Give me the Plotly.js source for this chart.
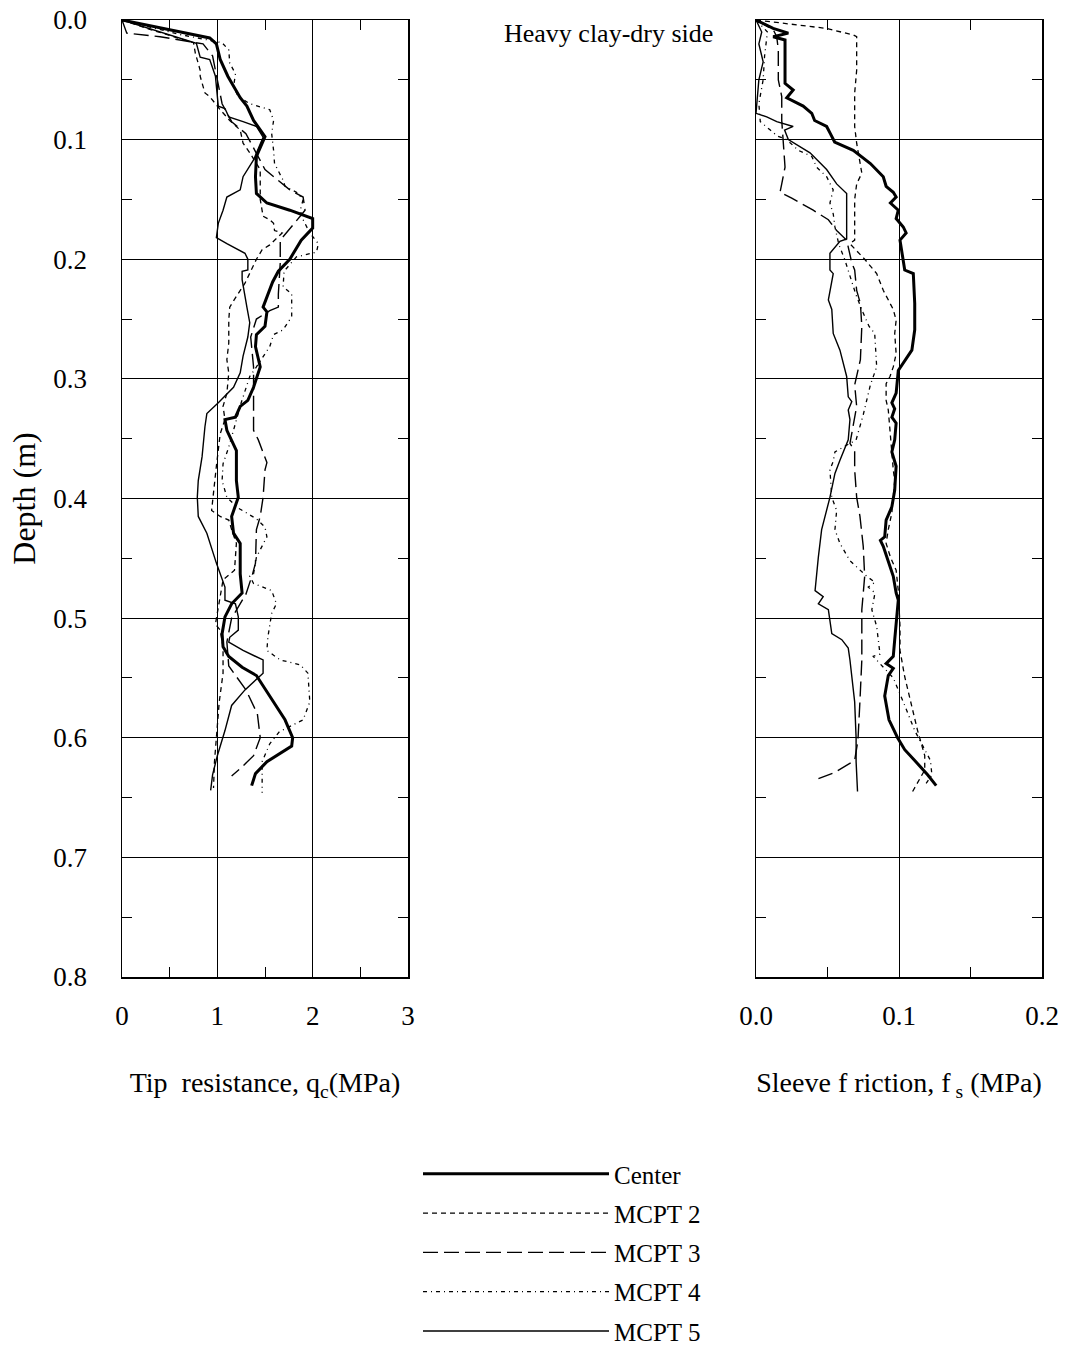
<!DOCTYPE html>
<html>
<head>
<meta charset="utf-8">
<script src="https://cdn.plot.ly/plotly-3.0.1.min.js"></script>
<style>html,body{margin:0;padding:0;background:#fff;}#chart{width:1068px;height:1347px;}</style>
</head>
<body>
<div id="chart"></div>
<script>
// ---------- Tip resistance qc (MPa) vs depth (m) ----------
const qcCenterDepth = [0, 0.015, 0.02, 0.033, 0.047, 0.065, 0.072, 0.084, 0.0975, 0.114, 0.131, 0.145, 0.153, 0.159, 0.166, 0.174, 0.184, 0.2, 0.21, 0.219, 0.24, 0.244, 0.256, 0.263, 0.273, 0.29, 0.307, 0.318, 0.323, 0.332, 0.334, 0.343, 0.36, 0.385, 0.399, 0.415, 0.429, 0.4375, 0.463, 0.479, 0.488, 0.499, 0.513, 0.524, 0.532, 0.541, 0.548, 0.565, 0.585, 0.6, 0.607, 0.62, 0.63, 0.64];
const qcCenter = [0, 0.92, 0.99, 1.03, 1.11, 1.24, 1.31, 1.38, 1.50, 1.41, 1.40, 1.41, 1.52, 1.76, 2.0, 2.0, 1.88, 1.76, 1.64, 1.58, 1.48, 1.52, 1.50, 1.41, 1.40, 1.45, 1.38, 1.32, 1.24, 1.19, 1.08, 1.10, 1.20, 1.20, 1.22, 1.15, 1.17, 1.24, 1.24, 1.26, 1.15, 1.08, 1.05, 1.06, 1.12, 1.26, 1.41, 1.55, 1.71, 1.79, 1.78, 1.52, 1.40, 1.36];

const qcM2Depth = [0, 0.008, 0.019, 0.028, 0.042, 0.047, 0.061, 0.064, 0.075, 0.084, 0.092, 0.103, 0.111, 0.125, 0.15, 0.164, 0.167, 0.17, 0.176, 0.178, 0.188, 0.192, 0.2, 0.22, 0.231, 0.24, 0.251, 0.27, 0.284, 0.295, 0.312, 0.323, 0.334, 0.346, 0.373, 0.399, 0.41, 0.415, 0.418, 0.426, 0.4375, 0.46, 0.468, 0.482, 0.499, 0.505, 0.51, 0.524, 0.546, 0.57, 0.6, 0.62, 0.642];
const qcM2 = [0, 0.3, 0.75, 0.77, 0.82, 0.82, 0.87, 0.92, 1.03, 1.13, 1.24, 1.27, 1.34, 1.45, 1.45, 1.48, 1.55, 1.59, 1.60, 1.68, 1.55, 1.47, 1.41, 1.29, 1.20, 1.13, 1.12, 1.12, 1.10, 1.12, 1.10, 1.06, 1.08, 1.03, 0.99, 0.96, 0.94, 1.03, 1.12, 1.15, 1.20, 1.18, 1.06, 1.03, 0.99, 0.98, 1.03, 1.06, 1.06, 1.02, 0.99, 0.97, 0.96];

const qcM3Depth = [0, 0.011, 0.014, 0.02, 0.03, 0.05, 0.07, 0.085, 0.095, 0.11, 0.125, 0.142, 0.148, 0.159, 0.163, 0.184, 0.203, 0.229, 0.24, 0.243, 0.25, 0.265, 0.29, 0.31, 0.343, 0.351, 0.362, 0.37, 0.376, 0.399, 0.415, 0.426, 0.454, 0.463, 0.48, 0.5, 0.52, 0.54, 0.56, 0.58, 0.6, 0.615, 0.625, 0.632];
const qcM3 = [0, 0.05, 0.4, 0.85, 0.95, 1.0, 1.05, 1.15, 1.3, 1.4, 1.5, 1.76, 1.9, 1.92, 1.88, 1.66, 1.66, 1.64, 1.64, 1.55, 1.41, 1.35, 1.38, 1.38, 1.38, 1.43, 1.48, 1.52, 1.50, 1.48, 1.45, 1.41, 1.40, 1.37, 1.30, 1.15, 1.10, 1.12, 1.30, 1.42, 1.45, 1.38, 1.25, 1.15];

const qcM4Depth = [0, 0.012, 0.019, 0.025, 0.036, 0.045, 0.056, 0.064, 0.07, 0.075, 0.084, 0.095, 0.109, 0.12, 0.134, 0.139, 0.144, 0.15, 0.159, 0.167, 0.178, 0.187, 0.194, 0.198, 0.21, 0.223, 0.229, 0.248, 0.259, 0.263, 0.273, 0.282, 0.29, 0.298, 0.32, 0.34, 0.357, 0.371, 0.385, 0.399, 0.408, 0.417, 0.424, 0.432, 0.44, 0.449, 0.463, 0.465, 0.471, 0.477, 0.488, 0.496, 0.516, 0.527, 0.535, 0.539, 0.546, 0.57, 0.585, 0.595, 0.605, 0.62, 0.646];
const qcM4 = [0, 0.6, 1.05, 1.12, 1.13, 1.19, 1.17, 1.22, 1.34, 1.55, 1.59, 1.57, 1.59, 1.60, 1.69, 1.71, 1.83, 1.90, 1.87, 1.90, 1.97, 2.06, 2.04, 1.83, 1.70, 1.69, 1.78, 1.78, 1.69, 1.59, 1.55, 1.48, 1.41, 1.34, 1.25, 1.18, 1.12, 1.06, 1.05, 1.10, 1.22, 1.41, 1.50, 1.52, 1.47, 1.41, 1.38, 1.34, 1.38, 1.57, 1.62, 1.57, 1.53, 1.52, 1.66, 1.87, 1.95, 1.97, 1.90, 1.65, 1.55, 1.47, 1.47];

const qcM5Depth = [0, 0.0195, 0.031, 0.033, 0.047, 0.072, 0.074, 0.081, 0.085, 0.089, 0.098, 0.117, 0.131, 0.142, 0.148, 0.159, 0.17, 0.182, 0.187, 0.195, 0.2, 0.209, 0.21, 0.217, 0.24, 0.253, 0.265, 0.281, 0.295, 0.307, 0.32, 0.329, 0.34, 0.365, 0.385, 0.399, 0.415, 0.429, 0.454, 0.474, 0.485, 0.488, 0.499, 0.51, 0.516, 0.52, 0.527, 0.535, 0.546, 0.56, 0.573, 0.594, 0.615, 0.631, 0.644];
const qcM5 = [0, 0.78, 0.82, 0.92, 0.98, 1.01, 1.08, 1.12, 1.27, 1.41, 1.48, 1.38, 1.27, 1.24, 1.10, 1.06, 1.01, 0.99, 1.10, 1.29, 1.32, 1.32, 1.26, 1.26, 1.31, 1.34, 1.32, 1.27, 1.24, 1.17, 1.01, 0.89, 0.87, 0.84, 0.80, 0.79, 0.80, 0.89, 0.99, 1.08, 1.08, 1.19, 1.22, 1.22, 1.13, 1.12, 1.27, 1.48, 1.48, 1.29, 1.15, 1.08, 1.00, 0.95, 0.93];

// ---------- Sleeve friction fs (MPa) vs depth (m) ----------
const fsCenterDepth = [0, 0.007, 0.011, 0.014, 0.0167, 0.053, 0.0585, 0.065, 0.072, 0.078, 0.084, 0.089, 0.095, 0.102, 0.109, 0.12, 0.131, 0.139, 0.144, 0.148, 0.153, 0.159, 0.166, 0.173, 0.178, 0.184, 0.209, 0.212, 0.237, 0.259, 0.276, 0.287, 0.293, 0.312, 0.32, 0.325, 0.332, 0.337, 0.351, 0.361, 0.373, 0.393, 0.407, 0.418, 0.432, 0.435, 0.44, 0.465, 0.479, 0.485, 0.502, 0.518, 0.532, 0.538, 0.542, 0.548, 0.565, 0.585, 0.6, 0.61, 0.619, 0.631, 0.64];
const fsCenter = [0, 0.012, 0.0226, 0.012, 0.0203, 0.0203, 0.026, 0.0215, 0.033, 0.039, 0.041, 0.0494, 0.052, 0.055, 0.068, 0.08, 0.089, 0.091, 0.096, 0.098, 0.094, 0.0995, 0.098, 0.103, 0.105, 0.1007, 0.104, 0.11, 0.111, 0.111, 0.109, 0.103, 0.0995, 0.098, 0.095, 0.097, 0.095, 0.098, 0.097, 0.095, 0.098, 0.097, 0.095, 0.091, 0.09, 0.087, 0.089, 0.096, 0.098, 0.0995, 0.098, 0.097, 0.096, 0.091, 0.096, 0.0925, 0.09, 0.093, 0.099, 0.104, 0.111, 0.12, 0.126];

const fsM2Depth = [0, 0.007, 0.0125, 0.014, 0.042, 0.061, 0.089, 0.103, 0.128, 0.137, 0.15, 0.176, 0.184, 0.187, 0.2, 0.212, 0.226, 0.242, 0.251, 0.262, 0.279, 0.29, 0.298, 0.304, 0.318, 0.326, 0.35, 0.376, 0.385, 0.399, 0.412, 0.426, 0.4375, 0.449, 0.46, 0.477, 0.507, 0.527, 0.549, 0.569, 0.594, 0.615, 0.627, 0.646];
const fsM2 = [0, 0.049, 0.068, 0.0704, 0.0704, 0.069, 0.069, 0.0704, 0.074, 0.0704, 0.069, 0.069, 0.069, 0.0657, 0.076, 0.0844, 0.089, 0.096, 0.098, 0.097, 0.098, 0.096, 0.0937, 0.091, 0.091, 0.0925, 0.094, 0.096, 0.097, 0.096, 0.095, 0.0925, 0.091, 0.094, 0.098, 0.0995, 0.1007, 0.1007, 0.104, 0.108, 0.113, 0.118, 0.118, 0.109];

const fsM3Depth = [0, 0.008, 0.014, 0.025, 0.05, 0.064, 0.084, 0.098, 0.123, 0.137, 0.144, 0.149, 0.159, 0.167, 0.176, 0.184, 0.203, 0.209, 0.226, 0.237, 0.256, 0.284, 0.305, 0.323, 0.354, 0.36, 0.376, 0.399, 0.415, 0.44, 0.465, 0.493, 0.535, 0.569, 0.602, 0.619, 0.629, 0.635];
const fsM3 = [0, 0.012, 0.0145, 0.0156, 0.0156, 0.018, 0.018, 0.019, 0.0203, 0.018, 0.0168, 0.025, 0.04, 0.0506, 0.0564, 0.0634, 0.067, 0.069, 0.0704, 0.073, 0.074, 0.073, 0.069, 0.0704, 0.0657, 0.069, 0.069, 0.0704, 0.0727, 0.075, 0.076, 0.074, 0.074, 0.0727, 0.0713, 0.069, 0.055, 0.042];

const fsM4Depth = [0, 0.01, 0.03, 0.05, 0.07, 0.085, 0.092, 0.097, 0.1, 0.109, 0.114, 0.123, 0.131, 0.142, 0.153, 0.162, 0.173, 0.188, 0.2, 0.215, 0.23, 0.245, 0.256, 0.262, 0.29, 0.305, 0.33, 0.351, 0.361, 0.369, 0.376, 0.399, 0.41, 0.426, 0.4375, 0.452, 0.46, 0.465, 0.47, 0.474, 0.479, 0.493, 0.507, 0.518, 0.53, 0.532, 0.538, 0.55, 0.573, 0.594, 0.619, 0.631, 0.64];
const fsM4 = [0, 0.008, 0.006, 0.005, 0.002, 0.003, 0.01, 0.015, 0.0215, 0.0296, 0.039, 0.0424, 0.0494, 0.054, 0.0517, 0.054, 0.0552, 0.058, 0.062, 0.066, 0.07, 0.075, 0.079, 0.083, 0.0844, 0.08, 0.075, 0.07, 0.0552, 0.054, 0.0517, 0.053, 0.0564, 0.0552, 0.0587, 0.0657, 0.0727, 0.0774, 0.0832, 0.0785, 0.0832, 0.081, 0.0844, 0.0855, 0.0867, 0.082, 0.0867, 0.096, 0.104, 0.111, 0.122, 0.123, 0.118];

const fsM5Depth = [0, 0.01, 0.02, 0.035, 0.05, 0.065, 0.078, 0.081, 0.085, 0.089, 0.092, 0.1, 0.111, 0.125, 0.137, 0.145, 0.176, 0.183, 0.185, 0.195, 0.209, 0.212, 0.234, 0.242, 0.262, 0.276, 0.298, 0.315, 0.319, 0.326, 0.334, 0.351, 0.368, 0.379, 0.399, 0.426, 0.449, 0.477, 0.482, 0.488, 0.493, 0.502, 0.513, 0.518, 0.525, 0.535, 0.548, 0.57, 0.6, 0.62, 0.645];
const fsM5 = [0, 0.004, 0.002, 0.005, 0.002, 0.001, 0.0, 0.0075, 0.0145, 0.026, 0.02, 0.0226, 0.0378, 0.0494, 0.0564, 0.0634, 0.0634, 0.0634, 0.0587, 0.0517, 0.0517, 0.054, 0.0506, 0.053, 0.054, 0.0587, 0.0634, 0.0645, 0.067, 0.0645, 0.0657, 0.0645, 0.0587, 0.0552, 0.0517, 0.0459, 0.0436, 0.0413, 0.047, 0.0436, 0.0506, 0.0517, 0.053, 0.06, 0.0645, 0.0657, 0.067, 0.069, 0.07, 0.07, 0.071];

const seriesNames = ["Center", "MCPT 2", "MCPT 3", "MCPT 4", "MCPT 5"];
const qTickVals = [0, 1, 2, 3];
const fTickVals = [0.0, 0.1, 0.2];
const depthTickVals = [0.0, 0.1, 0.2, 0.3, 0.4, 0.5, 0.6, 0.7, 0.8];

const styles = [
  {width: 3, dash: "solid"},
  {width: 1.3, dash: "5px,4px"},
  {width: 1.4, dash: "15px,6px"},
  {width: 1.3, dash: "4px,4px,1px,4px"},
  {width: 1.4, dash: "solid"}
];
const qcData = [[qcCenter, qcCenterDepth], [qcM2, qcM2Depth], [qcM3, qcM3Depth], [qcM4, qcM4Depth], [qcM5, qcM5Depth]];
const fsData = [[fsCenter, fsCenterDepth], [fsM2, fsM2Depth], [fsM3, fsM3Depth], [fsM4, fsM4Depth], [fsM5, fsM5Depth]];

const traces = [];
seriesNames.forEach((nm, i) => {
  traces.push({x: qcData[i][0], y: qcData[i][1], name: nm, legendgroup: nm, mode: "lines",
    type: "scatter", xaxis: "x", yaxis: "y", line: {color: "#000", width: styles[i].width, dash: styles[i].dash}});
  traces.push({x: fsData[i][0], y: fsData[i][1], name: nm, legendgroup: nm, showlegend: false, mode: "lines",
    type: "scatter", xaxis: "x2", yaxis: "y2", line: {color: "#000", width: styles[i].width, dash: styles[i].dash}});
});

const FONT = "Liberation Serif, Times New Roman, serif";
const W = 1068, H = 1347;
const yTop = 1 - 20 / H, yBot = 1 - 977 / H;

function xAxis(domain, range, tickvals, fmt, minorDt, titleText) {
  return {
    domain: domain, range: range, tickvals: tickvals, tickformat: fmt,
    ticks: "inside", ticklen: 0, showline: true, linecolor: "#000", linewidth: 1.5, mirror: "ticks",
    showgrid: true, gridcolor: "#000", gridwidth: 1, zeroline: false,
    minor: {dtick: minorDt, tick0: 0, ticks: "inside", ticklen: 10, tickcolor: "#000", tickwidth: 1, showgrid: false},
    tickfont: {family: FONT, size: 27, color: "#000"}, ticklabelstandoff: 14,
    title: {text: titleText, font: {family: FONT, size: 28, color: "#000"}, standoff: 42},
    fixedrange: true
  };
}
function yAxis(anchor, showLabels, withTitle) {
  const ax = {
    domain: [yBot, yTop], range: [0.8, 0], tickvals: depthTickVals, tickformat: ".1f",
    ticks: "inside", ticklen: 0, showline: true, linecolor: "#000", linewidth: 1.5, mirror: "ticks",
    showgrid: true, gridcolor: "#000", gridwidth: 1, zeroline: false, anchor: anchor,
    minor: {dtick: 0.05, tick0: 0, ticks: "inside", ticklen: 10, tickcolor: "#000", tickwidth: 1, showgrid: false},
    showticklabels: showLabels,
    tickfont: {family: FONT, size: 27, color: "#000"}, ticklabelstandoff: 28,
    fixedrange: true
  };
  if (withTitle) ax.title = {text: "Depth (m)", font: {family: FONT, size: 32, color: "#000"}, standoff: 8};
  return ax;
}

const layout = {
  width: W, height: H,
  margin: {l: 0, r: 0, t: 0, b: 0, autoexpand: false},
  paper_bgcolor: "#fff", plot_bgcolor: "#fff",
  font: {family: FONT, color: "#000"},
  xaxis: Object.assign(xAxis([122 / W, 408 / W], [0, 3], qTickVals, "d", 0.5, "Tip  resistance, q<sub>c</sub>(MPa)"), {anchor: "y"}),
  yaxis: yAxis("x", true, true),
  xaxis2: Object.assign(xAxis([756 / W, 1042 / W], [0, 0.2], fTickVals, ".1f", 0.05, "Sleeve f riction, f<sub> s</sub> (MPa)"), {anchor: "y2"}),
  yaxis2: yAxis("x2", false, false),
  showlegend: true,
  legend: {
    x: 418 / W, y: 1 - 1151 / H, xanchor: "left", yanchor: "top",
    font: {family: FONT, size: 25, color: "#000"},
    itemwidth: 186, traceorder: "grouped", tracegroupgap: 3.8,
    bgcolor: "rgba(0,0,0,0)", borderwidth: 0
  },
  annotations: [{
    text: "Heavy clay-dry side", xref: "paper", yref: "paper",
    x: 608 / W, y: 1 - 33 / H, xanchor: "center", yanchor: "middle", showarrow: false,
    font: {family: FONT, size: 26, color: "#000"}
  }]
};

Plotly.newPlot("chart", traces, layout, {staticPlot: true, displayModeBar: false});
</script>
</body>
</html>
